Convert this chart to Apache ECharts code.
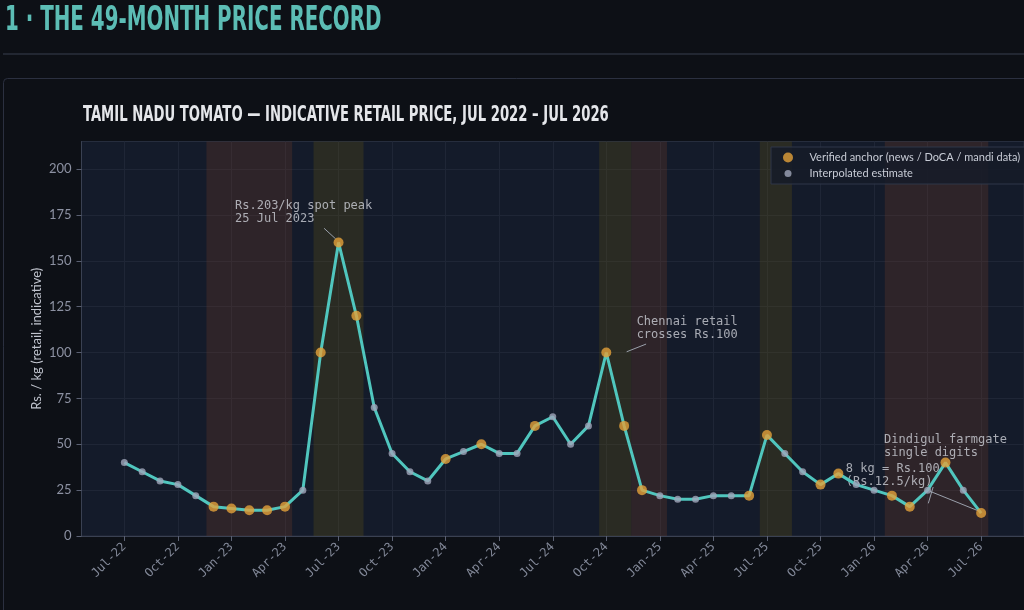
<!DOCTYPE html>
<html>
<head>
<meta charset="utf-8">
<title>Tamil Nadu tomato — 49-month price record</title>
<script src="https://cdn.jsdelivr.net/npm/echarts@6/dist/echarts.min.js"></script>
<style>
  html, body { margin: 0; padding: 0; background: #0d1016; }
  #chart { width: 1024px; height: 610px; }
</style>
</head>
<body>
<div id="chart"></div>
<script>
// indicative retail price, Rs./kg, one value per month Jul-22 .. Jul-26
const prices = [
  40, 35, 30, 28, 22, 16, 15, 14, 14, 16,
  25, 100, 160, 120, 70, 45, 35, 30, 42, 46,
  50, 45, 45, 60, 65, 50, 60, 100, 60, 25,
  22, 20, 20, 22, 22, 22, 55, 45, 35, 28,
  34, 28, 25, 22, 16, 25, 40, 25, 12.5
];
// 1 = verified anchor, 0 = interpolated estimate
const anchorFlags = [
  0, 0, 0, 0, 0, 1, 1, 1, 1, 1,
  0, 1, 1, 1, 0, 0, 0, 0, 1, 0,
  1, 0, 0, 1, 0, 0, 0, 1, 1, 1,
  0, 0, 0, 0, 0, 1, 1, 0, 0, 1,
  1, 0, 0, 1, 1, 0, 1, 0, 1
];
// one label every 3 months
const tickLabels = [
  'Jul-22', 'Oct-22', 'Jan-23', 'Apr-23', 'Jul-23', 'Oct-23', 'Jan-24', 'Apr-24', 'Jul-24',
  'Oct-24', 'Jan-25', 'Apr-25', 'Jul-25', 'Oct-25', 'Jan-26', 'Apr-26', 'Jul-26'
];
// shaded periods, in month index
const redBands = [[4.6, 9.4], [28.4, 30.4], [42.6, 48.4]];
const oliveBands = [[10.6, 13.4], [26.6, 28.4], [35.6, 37.4]];

const ANCHOR = 'Verified anchor (news / DoCA / mandi data)';
const INTERP = 'Interpolated estimate';

const chart = echarts.init(document.getElementById('chart'));

const anchorPts = [];
const interpPts = [];
prices.forEach((v, i) => {
  (anchorFlags[i] ? anchorPts : interpPts).push([i, v]);
});

const xTicks = tickLabels.map((_, i) => i * 3);
const yTicks = [];
for (let v = 0; v <= 200; v += 25) yTicks.push(v);

const bandArea = (bands, color) => bands.map(b => [
  { xAxis: b[0], itemStyle: { color: color } },
  { xAxis: b[1] }
]);

const narrow = '"Liberation Sans Narrow", "DejaVu Sans Condensed", "Arial Narrow", sans-serif';
const mono = '"DejaVu Sans Mono", monospace';

const option = {
  backgroundColor: '#0d1016',
  animation: false,
  graphic: [
    {
      type: 'text', x: 5, y: 21.5, scaleX: 0.92, scaleY: 1.4,
      style: {
        text: '1 · THE 49-MONTH PRICE RECORD',
        font: 'bold 24px ' + narrow,
        fill: '#5cbdb5', verticalAlign: 'middle'
      }
    },
    {
      type: 'line', shape: { x1: 3, y1: 54, x2: 1024, y2: 54 },
      style: { stroke: '#2a2f3c', lineWidth: 1.5 }
    },
    {
      type: 'rect', shape: { x: 3.5, y: 78.5, width: 1040, height: 560, r: 4 },
      style: { fill: 'none', stroke: '#2b3040', lineWidth: 1 }
    },
    {
      type: 'text', x: 83, y: 115, scaleX: 0.70, scaleY: 1.05,
      style: {
        text: 'TAMIL NADU TOMATO — INDICATIVE RETAIL PRICE, JUL 2022 – JUL 2026',
        font: 'bold 21px ' + narrow,
        fill: '#e4e6ea', verticalAlign: 'middle'
      }
    }
  ],
  legend: [
    {
      data: [{ name: ANCHOR, icon: 'circle' }],
      left: 771, top: 147, orient: 'vertical',
      padding: [5, 18, 21, 12],
      itemWidth: 33, itemHeight: 10,
      backgroundColor: 'rgba(21,27,40,0.85)',
      borderColor: '#2e3648', borderWidth: 1,
      textStyle: { color: '#c8ccd6', fontSize: 11, fontFamily: 'Lato' }
    },
    {
      data: [{ name: INTERP, icon: 'circle' }],
      left: 784.5, top: 168, orient: 'vertical',
      padding: 0,
      itemWidth: 33, itemHeight: 7,
      textStyle: { color: '#c8ccd6', fontSize: 11, fontFamily: 'Lato' }
    }
  ],
  grid: {
    left: 81.5, top: 141.5, width: 943.5, height: 394.5,
    show: true, backgroundColor: '#141b2a',
    borderColor: '#262d3d', borderWidth: 1
  },
  xAxis: {
    type: 'value', min: -2.4, max: 50.4,
    axisLine: { lineStyle: { color: '#3a4152' } },
    axisTick: { customValues: xTicks, length: 5, lineStyle: { color: '#5a6072' } },
    axisLabel: {
      customValues: xTicks, rotate: 45, margin: 9,
      formatter: v => tickLabels[Math.round(v / 3)],
      fontFamily: mono, fontSize: 12, color: '#838999'
    },
    splitLine: { show: true, lineStyle: { color: '#1f2636', width: 1 } }
  },
  yAxis: {
    type: 'value', min: 0, max: 215,
    name: 'Rs. / kg (retail, indicative)', nameLocation: 'middle', nameGap: 38,
    nameMoveOverlap: false,
    nameTextStyle: { color: '#c0c4ce', fontSize: 13, fontFamily: 'Lato' },
    axisLine: { show: true, onZero: false, lineStyle: { color: '#3a4152' } },
    axisTick: { show: true, customValues: yTicks, length: 5, lineStyle: { color: '#5a6072' } },
    axisLabel: { customValues: yTicks, margin: 10, color: '#8c91a2', fontSize: 13, fontFamily: 'Lato' },
    splitLine: { show: true, lineStyle: { color: '#1f2636', width: 1 } }
  },
  series: [
    {
      name: 'price', type: 'line', z: 3,
      data: prices.map((v, i) => [i, v]),
      showSymbol: false,
      lineStyle: { color: '#50c6be', width: 3 },
      itemStyle: { color: '#50c6be' },
      markArea: {
        silent: true,
        data: bandArea(redBands, 'rgba(124,62,40,0.25)').concat(bandArea(oliveBands, 'rgba(108,90,16,0.25)'))
      }
    },
    {
      name: INTERP, type: 'scatter', z: 4,
      data: interpPts, symbolSize: 7,
      itemStyle: { color: '#a0a6ba' }
    },
    {
      name: ANCHOR, type: 'scatter', z: 5,
      data: anchorPts, symbolSize: 10,
      itemStyle: { color: '#e3a13a' }
    },
    {
      name: 'notes', type: 'scatter', z: 2, silent: true,
      symbolSize: 0,
      data: [
        { value: [6.2, 183.6], name: 'Rs.203/kg spot peak\n25 Jul 2023' },
        { value: [28.7, 120.4], name: 'Chennai retail\ncrosses Rs.100' },
        { value: [42.56, 56.1], name: 'Dindigul farmgate\nsingle digits' },
        { value: [40.42, 40.3], name: '8 kg = Rs.100\n(Rs.12.5/kg)' }
      ],
      label: {
        show: true, formatter: '{b}', position: [0, 0],
        align: 'left', verticalAlign: 'top',
        color: '#cdd0d7', fontFamily: mono, fontSize: 12, lineHeight: 13
      },
      markLine: {
        silent: true, symbol: ['none', 'none'],
        label: { show: false },
        lineStyle: { color: '#9aa0ab', width: 1, type: 'solid' },
        data: [
          [{ coord: [11.19, 167.7] }, { coord: [11.84, 161.9] }],
          [{ coord: [28.14, 100.4] }, { coord: [29.23, 104.6] }],
          [{ coord: [45.04, 17.8] }, { coord: [45.31, 26.7] }],
          [{ coord: [45.1, 24.5] }, { coord: [47.97, 13.2] }]
        ]
      }
    }
  ]
};

chart.setOption(option);
</script>
</body>
</html>
